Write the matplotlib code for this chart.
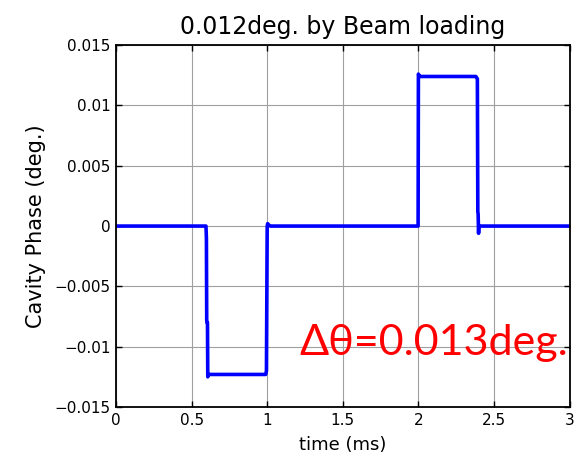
import matplotlib.pyplot as plt

# cavity phase response to the beam pulses (time in ms, phase in deg.)
time_ms = [0.0, 0.595, 0.598, 0.600, 0.602, 0.605, 0.607, 0.612, 0.99, 0.995,
           1.0, 1.003, 1.01, 1.02, 1.998, 2.0, 2.003, 2.01, 2.38, 2.39,
           2.393, 2.395, 2.398, 2.40, 2.41, 3.0]
phase_deg = [0.0, 0.0, -0.0010, -0.0078, -0.0080, -0.0080, -0.0125, -0.0123, -0.0123, -0.0120,
             0.0, 0.0002, 0.0001, 0.0, 0.0, 0.0126, 0.0125, 0.0124, 0.0124, 0.0122,
             0.0012, 0.0010, -0.0006, 0.0, 0.0, 0.0]

x_ticks = [0, 0.5, 1, 1.5, 2, 2.5, 3]
x_tick_labels = ['0', '0.5', '1', '1.5', '2', '2.5', '3']
y_ticks = [-0.015, -0.01, -0.005, 0, 0.005, 0.01, 0.015]
y_tick_labels = ['\u22120.015', '\u22120.01', '\u22120.005', '0', '0.005', '0.01', '0.015']

plt.rcParams['font.family'] = ['DejaVu Sans']

fig = plt.figure(figsize=(5.82, 4.70), dpi=100)
ax = fig.add_axes([0.1993, 0.134, 0.7794, 0.770])

ax.plot(time_ms, phase_deg, color='#0000ff', linewidth=2.6, solid_joinstyle='round')

ax.set_xlim(0, 3)
ax.set_ylim(-0.015, 0.015)
ax.set_xticks(x_ticks)
ax.set_xticklabels(x_tick_labels)
ax.set_yticks(y_ticks)
ax.set_yticklabels(y_tick_labels)
ax.tick_params(direction='in', top=True, right=True, labelsize=11, length=4, width=1, pad=4)
ax.grid(True, color='#a0a0a0', linewidth=0.8, linestyle='-')
for s in ax.spines.values():
    s.set_linewidth(1.3)

ax.set_title('0.012deg. by Beam loading', fontsize=17, pad=8)
ax.set_xlabel('time (ms)', fontsize=13, labelpad=6)
ax.set_ylabel('Cavity Phase (deg.)', fontsize=15, labelpad=6)

ax.text(2.99, -0.0097, '\u0394\u03b8=0.013deg.', color='#ff0000', fontsize=31,
        family=['Lato', 'Noto Sans', 'DejaVu Sans'], ha='right', va='center')

plt.savefig('out.png', dpi=100)
